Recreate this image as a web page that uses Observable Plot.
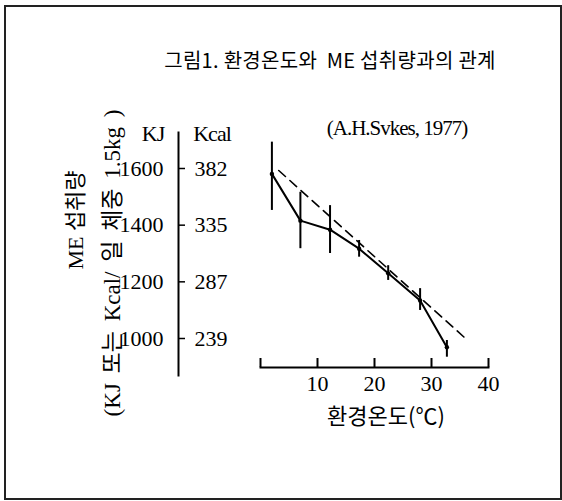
<!DOCTYPE html>
<html><head><meta charset="utf-8">
<script src="https://cdn.jsdelivr.net/npm/d3@7"></script>
<script src="https://cdn.jsdelivr.net/npm/@observablehq/plot@0.6"></script>
<style>
body{margin:0;background:#fff;}
#wrap{position:relative;width:562px;height:501px;overflow:hidden;background:#fff;}
#box{position:absolute;left:4px;top:5px;width:558px;height:495px;border:2px solid #222;box-sizing:border-box;}
#chart{position:absolute;left:0;top:0;}
.t{position:absolute;white-space:nowrap;color:#000;line-height:1;transform:translate(-50%,-50%);}
.ser{font-family:"Liberation Serif","Noto Sans CJK KR",serif;}
.kr{font-family:"Noto Sans CJK KR",sans-serif;}
</style></head><body>
<div id="wrap">
  <div id="box"></div>
  <div id="chart"></div>
  <div class="t kr" style="left:330px;top:60px;font-size:20px;font-weight:400;letter-spacing:0.3px;">그림1. 환경온도와&nbsp; ME 섭취량과의 관계</div>
  <div class="t ser" style="left:397px;top:128px;font-size:21px;letter-spacing:-1px;">(A.H.Svkes, 1977)</div>
  <div class="t ser" style="left:153px;top:134px;font-size:22px;letter-spacing:-1px;">KJ</div>
  <div class="t ser" style="left:212px;top:134px;font-size:22px;letter-spacing:-1px;">Kcal</div>
  <div class="t kr" style="left:386px;top:414px;font-size:22px;">환경온도(℃)</div>
  <div class="t ser" style="left:76px;top:220px;font-size:22px;transform:translate(-50%,-50%) rotate(-90deg);">ME 섭취량</div>
  <div class="t ser" style="left:112px;top:263px;font-size:23px;word-spacing:4px;transform:translate(-50%,-50%) rotate(-90deg);">(KJ 또는 Kcal/ 일 체중 1.5kg )</div>
</div>
<script>
// Data
const temps   = [2, 7, 12.2, 17.3, 22.4, 28, 32.7];
const meanKJ  = [1581, 1416, 1384, 1317, 1230, 1134, 969];
const lowKJ   = [1452, 1317, 1300, 1287, 1205, 1099, 934];
const highKJ  = [1693, 1516, 1469, 1346, 1257, 1176, 993];
const trendTemp = [3.2, 35.7];
const trendKJ   = [1593, 1005];
const xTicks = [0, 10, 20, 30, 40];
const kjTicks = [1600, 1400, 1200, 1000];
const kcalLabels = ["382", "335", "287", "239"];

const obs = temps.map((t, i) => ({t, mean: meanKJ[i], lo: lowKJ[i], hi: highKJ[i]}));
const trend = trendTemp.map((t, i) => ({t, kj: trendKJ[i]}));
const yTickRows = kjTicks.map((kj, i) => ({kj, kcal: kcalLabels[i]}));

const chart = Plot.plot({
  width: 562, height: 501,
  marginLeft: 178, marginRight: 74, marginTop: 132, marginBottom: 134,
  x: {domain: [0, 40], range: [260, 488]},
  y: {domain: [1000, 1600], range: [338, 168]},
  style: {background: "transparent", fontFamily: "Liberation Serif", fontSize: "22px", color: "#000"},
  marks: [
    Plot.frame({anchor: "left", insetBottom: -8, strokeWidth: 2}),
    Plot.frame({anchor: "bottom", insetLeft: 82, strokeWidth: 2}),
    Plot.ruleX(xTicks, {x: d => d, insetTop: 226, strokeWidth: 2}),
    Plot.ruleY(kjTicks, {y: d => d, insetRight: 303, strokeWidth: 1.5}),
    Plot.axisX(xTicks, {tickSize: 0, tickPadding: 8, label: null, tickFormat: d => d === 0 ? "" : String(d), fontSize: 22, style: "letter-spacing:-1.5px"}),
    Plot.axisY(kjTicks, {tickSize: 0, tickPadding: 15, label: null, tickFormat: d => String(d), fontSize: 22, style: "letter-spacing:-1.5px"}),
    Plot.text(yTickRows, {y: "kj", text: "kcal", frameAnchor: "left", dx: 16, textAnchor: "start", fontSize: 22, style: "letter-spacing:-1.5px"}),
    Plot.line(trend, {x: "t", y: "kj", stroke: "#000", strokeWidth: 1.6, strokeDasharray: "9,6"}),
    Plot.ruleX(obs, {x: "t", y1: "lo", y2: "hi", stroke: "#000", strokeWidth: 2}),
    Plot.line(obs, {x: "t", y: "mean", stroke: "#000", strokeWidth: 2}),
    Plot.dot(obs, {x: "t", y: "mean", r: 2.2, fill: "#000"})
  ]
});
document.getElementById("chart").append(chart);
</script>
</body></html>
